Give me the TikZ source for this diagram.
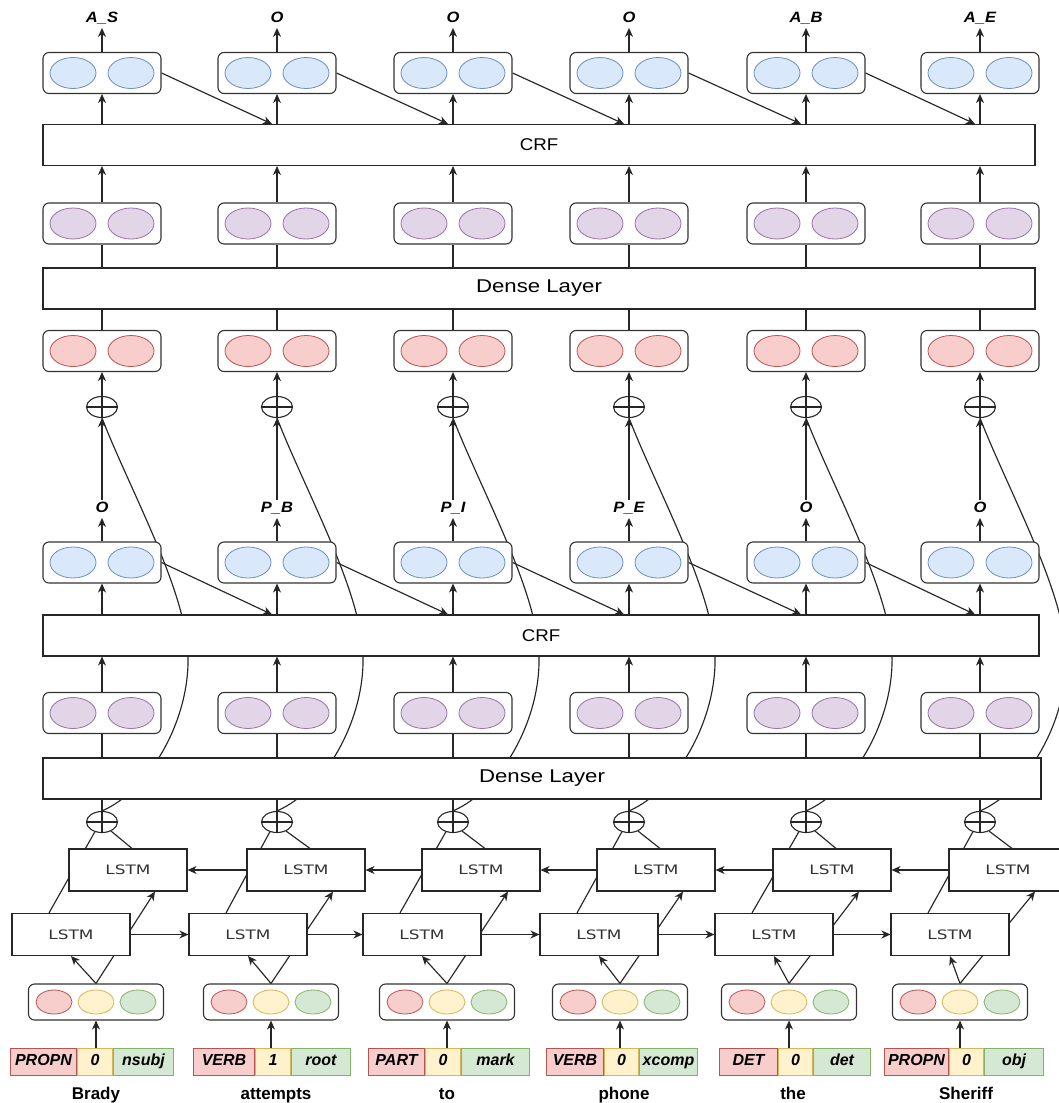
\documentclass[tikz,border=0pt]{standalone}
\usepackage{fontspec}
\setmainfont{Liberation Sans}
\newfontfamily\stretchsans[FakeStretch=1.1]{Liberation Sans}
\newfontfamily\widesans[FakeStretch=1.2]{Liberation Sans}
\newfontfamily\lstmfam[FakeStretch=1.3]{DejaVu Sans}
\usetikzlibrary{shapes.geometric,arrows.meta,calc,backgrounds}
\definecolor{bluef}{HTML}{DAE8FC}\definecolor{blued}{HTML}{6C8EBF}
\definecolor{purf}{HTML}{E1D5E7}\definecolor{purd}{HTML}{9673A6}
\definecolor{redf}{HTML}{F8CECC}\definecolor{redd}{HTML}{B85450}
\definecolor{yelf}{HTML}{FFF2CC}\definecolor{yeld}{HTML}{D6B656}
\definecolor{grnf}{HTML}{D5E8D4}\definecolor{grnd}{HTML}{82B366}
\tikzset{
 conn/.style={line width=1.15pt, draw=black!85},
 arrw/.style={conn, -{Stealth[length=9pt,width=8pt,inset=2.8pt]}},
 vbox/.style={draw=black!80, line width=1.1pt, rounded corners=6pt, minimum width=118pt, minimum height=41pt, fill=white, inner sep=0pt},
 barbox/.style={draw=black!85, line width=1.1pt, fill=white, minimum height=41pt, inner sep=0pt, font=\stretchsans\fontsize{17}{20}\selectfont},
 denbox/.style={barbox, font=\widesans\fontsize{18.5}{22}\selectfont},
 lstmbox/.style={draw=black!85, line width=1.1pt, fill=white, minimum width=118pt, minimum height=42pt, inner sep=0pt, text=black!80, font=\lstmfam\fontsize{13}{15}\selectfont},
 fbox/.style={vbox, minimum width=135pt, minimum height=36pt},
 cbl/.style={ellipse, draw=blued, fill=bluef, line width=0.8pt, minimum width=46pt, minimum height=31pt, inner sep=0pt},
 cpu/.style={cbl, draw=purd, fill=purf},
 crd/.style={cbl, draw=redd, fill=redf},
 cfr/.style={ellipse, draw=redd, fill=redf, line width=0.8pt, minimum width=36pt, minimum height=24pt, inner sep=0pt},
 cfy/.style={cfr, draw=yeld, fill=yelf},
 cfg/.style={cfr, draw=grnd, fill=grnf},
 oplus/.style={ellipse, draw=black!85, line width=1.1pt, fill=white, minimum width=31pt, minimum height=21pt, inner sep=0pt},
 lbl/.style={font=\stretchsans\fontsize{15}{15}\bfseries\itshape\selectfont, inner sep=2pt, text height=11pt, text depth=3pt},
 tagr/.style={draw=redd, fill=redf, line width=1pt, minimum height=27pt, inner sep=0pt, anchor=west, text height=11.5pt, text depth=3.5pt, font=\fontsize{16}{16}\selectfont\bfseries\itshape},
 tagy/.style={tagr, draw=yeld, fill=yelf},
 tagg/.style={tagr, draw=grnd, fill=grnf},
 wordlbl/.style={font=\fontsize{17}{17}\selectfont\bfseries, inner sep=0pt, anchor=base},
}
\begin{document}
\begin{tikzpicture}[x=1pt,y=-1pt]
\useasboundingbox (0,0) rectangle (1059,1103);
\clip (0,0) rectangle (1059,1103);
% bars
\node[barbox, minimum width=992pt] (crf1) at (539,145) {CRF};
\node[denbox, minimum width=992pt] (den1) at (539,288.5) {Dense Layer};
\node[barbox, minimum width=996pt] (crf2) at (541,635.5) {CRF};
\node[denbox, minimum width=998pt] (den2) at (542,778.5) {Dense Layer};
% upper columns
\foreach \i/\x/\tlab/\mlab in {1/102/A\_S/O,2/277/O/P\_B,3/453/O/P\_I,4/629/O/P\_E,5/806/A\_B/O,6/980/A\_E/O}{
 \node[vbox] (b1\i) at (\x,73) {};
 \node[cbl] (b1\i-a) at (\x-29,73) {};
 \node[cbl] (b1\i-b) at (\x+29,73) {};
 \node[lbl] (tl\i) at (\x,18.7) {\tlab};
 \node[vbox] (p1\i) at (\x,223.5) {};
 \node[cpu] (p1\i-a) at (\x-29,223.5) {};
 \node[cpu] (p1\i-b) at (\x+29,223.5) {};
 \node[vbox] (r\i) at (\x,351) {};
 \node[crd] (r\i-a) at (\x-29,351) {};
 \node[crd] (r\i-b) at (\x+29,351) {};
 \node[oplus] (pu\i) at (\x,407) {};
 \node[lbl] (ml\i) at (\x,508.7) {\mlab};
 \node[vbox] (b2\i) at (\x,562.5) {};
 \node[cbl] (b2\i-a) at (\x-29,562.5) {};
 \node[cbl] (b2\i-b) at (\x+29,562.5) {};
 \node[vbox] (p2\i) at (\x,713) {};
 \node[cpu] (p2\i-a) at (\x-29,713) {};
 \node[cpu] (p2\i-b) at (\x+29,713) {};
 \node[oplus] (pl\i) at (\x,822) {};
}
% lower columns
\foreach \i/\fw/\bw/\f in {1/71/128/96,2/248/306/271,3/422/481/447,4/599/656/620,5/774/832/789,6/950/1008/960}{
 \node[lstmbox] (bw\i) at (\bw,870) {LSTM};
 \node[lstmbox] (fw\i) at (\fw,934.5) {LSTM};
 \node[fbox] (f\i) at (\f,1002) {};
 \node[cfr] (f\i-a) at (\f-42,1002) {};
 \node[cfy] (f\i-b) at (\f,1002) {};
 \node[cfg] (f\i-c) at (\f+42,1002) {};
}
% tags and words
\foreach \i/\xl/\wA/\wB/\wC/\tA/\tB/\tC/\w/\wx in {
 1/10/66/35/60/PROPN/0/nsubj/Brady/96,
 2/193/61/35/59/VERB/1/root/attempts/276,
 3/368/56/35/68/PART/0/mark/to/447,
 4/546/57/34/58/VERB/0/xcomp/phone/624,
 5/719/58/34/57/DET/0/det/the/793,
 6/884/64/34/59/PROPN/0/obj/Sheriff/966}{
 \node[tagr, minimum width=\wA pt] (t\i-a) at (\xl,1061.5) {\tA};
 \node[tagy, minimum width=\wB pt] (t\i-b) at (t\i-a.east) {\tB};
 \node[tagg, minimum width=\wC pt] (t\i-c) at (t\i-b.east) {\tC};
 \node[wordlbl] (w\i) at (\wx,1099) {\w};
}
% plus crosses
\foreach \i in {1,...,6}{
 \draw[conn] (pu\i.north) -- (pu\i.south) (pu\i.west) -- (pu\i.east);
 \draw[conn] (pl\i.north) -- (pl\i.south) (pl\i.west) -- (pl\i.east);
}
% connectors
\begin{scope}[on background layer]
\fill[white] (0,0) rectangle (1059,1103);
\foreach \i in {1,...,6}{
 \draw[arrw] (b1\i.north) -- (tl\i.south);
 \draw[arrw] (b1\i.south |- crf1.north) -- (b1\i.south);
 \draw[arrw] (p1\i.north) -- (p1\i.north |- crf1.south);
 \draw[conn] (p1\i.south) -- (p1\i.south |- den1.north);
 \draw[conn] (r\i.north) -- (r\i.north |- den1.south);
 \draw[arrw] (pu\i.north) -- (r\i.south);
 \draw[arrw] (ml\i.north) -- (pu\i.south);
 \draw[arrw] (b2\i.north) -- (ml\i.south);
 \draw[arrw] (b2\i.south |- crf2.north) -- (b2\i.south);
 \draw[arrw] (p2\i.north) -- (p2\i.north |- crf2.south);
 \draw[conn] (p2\i.south) -- (p2\i.south |- den2.north);
 \draw[conn] (pl\i.north) -- (pl\i.north |- den2.south);
 \coordinate (m\i) at ($(pl\i.north)+(86,-156)$);
 \draw[conn] (pl\i.north) .. controls +(48,-21) and +(2,65) .. (m\i) .. controls +(-2,-65) and +(28,72) .. (pu\i.south);
 \draw[conn] ($(fw\i.north)+(-22,0)$) -- (pl\i.234);
 \draw[conn] ($(bw\i.north)+(4,0)$) -- (pl\i.315);
 \draw[arrw] (f\i.north) -- (fw\i.south);
 \draw[arrw] (f\i.north) -- ($(bw\i.south)+(27,0)$);
 \draw[arrw] (f\i.south |- t\i-b.north) -- (f\i.south);
}
\foreach \i/\j in {1/2,2/3,3/4,4/5,5/6}{
 \draw[arrw] (b1\i.east) -- ($(b1\j.south |- crf1.north)+(-5,0)$);
 \draw[arrw] (b2\i.east) -- ($(b2\j.south |- crf2.north)+(-5,0)$);
 \draw[arrw] (fw\i.east) -- (fw\j.west);
 \draw[arrw] (bw\j.west) -- (bw\i.east);
}
\end{scope}
\end{tikzpicture}
\end{document}
